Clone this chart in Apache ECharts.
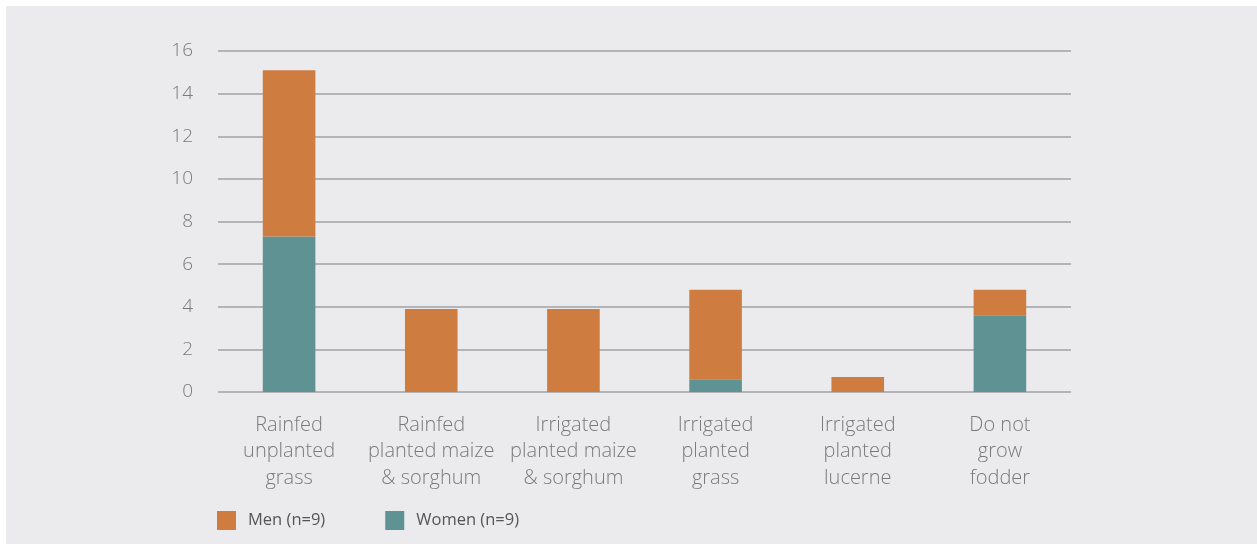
<!DOCTYPE html>
<html>
<head>
<meta charset="utf-8">
<script src="https://cdn.jsdelivr.net/npm/echarts@6/dist/echarts.min.js"></script>
<style>
  html, body { margin: 0; padding: 0; background: #ffffff; }
  #frame { position: absolute; left: 6px; top: 6px; width: 1251px; height: 538px; background: #ebebed; }
  #chart { position: absolute; left: -6px; top: -6px; width: 1257px; height: 547px; }
</style>
</head>
<body>
<div id="frame"><div id="chart"></div></div>
<script>
// Fodder sources reported by respondents
const categories = [
  'Rainfed\nunplanted\ngrass',
  'Rainfed\nplanted maize\n& sorghum',
  'Irrigated\nplanted maize\n& sorghum',
  'Irrigated\nplanted\ngrass',
  'Irrigated\nplanted\nlucerne',
  'Do not\ngrow\nfodder'
];
const seriesNames = ['Women (n=9)', 'Men (n=9)'];
const women = [7.3, 0, 0, 0.6, 0, 3.6];
const men = [7.8, 3.9, 3.9, 4.2, 0.7, 1.2];
const yTicks = { min: 0, max: 16, interval: 2 };

const FONT = '"Open Sans", "Noto Sans", sans-serif';
const chart = echarts.init(document.getElementById('chart'), null, { renderer: 'canvas' });

chart.setOption({
  backgroundColor: 'transparent',
  animation: false,
  grid: { left: 218, right: 186, top: 51, bottom: 155 },
  legend: {
    left: 217,
    top: 511,
    itemWidth: 19,
    itemHeight: 19,
    itemGap: 60,
    padding: 0,
    icon: 'rect',
    data: [seriesNames[1], seriesNames[0]],
    textStyle: { fontFamily: FONT, fontSize: 16.5, fontWeight: 500, color: '#555555', padding: [0, 0, 0, 7] }
  },
  xAxis: {
    type: 'category',
    data: categories,
    axisLine: { show: false },
    axisTick: { show: false },
    axisLabel: {
      margin: 20,
      fontFamily: FONT,
      fontWeight: 300,
      fontSize: 20,
      lineHeight: 26.5,
      color: '#7a7a7a',
      interval: 0
    }
  },
  yAxis: {
    type: 'value',
    min: yTicks.min,
    max: yTicks.max,
    interval: yTicks.interval,
    axisLine: { show: false },
    axisTick: { show: false },
    splitLine: { lineStyle: { color: '#b4b4b6', width: 2 } },
    axisLabel: {
      margin: 25,
      fontFamily: FONT,
      fontWeight: 300,
      fontSize: 19,
      color: '#7a7a7a'
    }
  },
  series: [
    {
      name: seriesNames[0],
      type: 'bar',
      stack: 'total',
      barWidth: '37%',
      data: women,
      itemStyle: { color: '#5f9393' }
    },
    {
      name: seriesNames[1],
      type: 'bar',
      stack: 'total',
      barWidth: '37%',
      data: men,
      itemStyle: { color: '#cf7c40' }
    }
  ]
});
</script>
</body>
</html>
